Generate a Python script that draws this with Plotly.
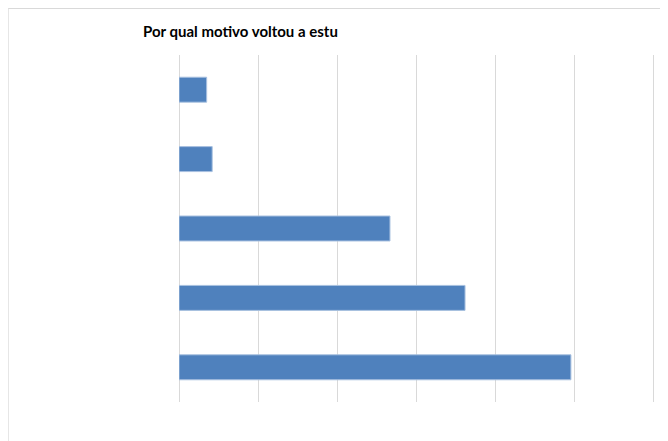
import plotly.graph_objects as go

title_text = "Por qual motivo voltou a estu"
categories = ["Motivo A", "Motivo B", "Motivo C", "Motivo D", "Motivo E"]
values = [49.6, 36.2, 26.7, 4.2, 3.5]  # bottom to top

fig = go.Figure()
fig.add_trace(go.Bar(
    y=categories,
    x=values,
    orientation="h",
    width=0.36,
    marker=dict(color="#4f81bd", line=dict(color="#a9c1e0", width=1)),
    hoverinfo="x",
))

# page body has an 8px margin, so figure coords = screen coords - 8
OFF = 8
W, H = 668, 441
XMAX = 61
unit_px = (653.3 - 179.3) / 60
plot_left = 179.3 - OFF
plot_right = plot_left + XMAX * unit_px
plot_top, plot_bottom = 55 - OFF, 402 - OFF
l, r, t, b = plot_left, W - plot_right, plot_top, H - plot_bottom

def px_to_paper_x(px):
    return (px - OFF - l) / (W - l - r)

def px_to_paper_y(py):
    return (H - b - (py - OFF)) / (H - t - b)

fig.update_layout(
    width=W, height=H,
    margin=dict(l=l, r=r, t=t, b=b, pad=0),
    paper_bgcolor="white",
    plot_bgcolor="white",
    showlegend=False,
    xaxis=dict(
        range=[0, XMAX], tickvals=[0, 10, 20, 30, 40, 50, 60],
        showgrid=True, gridcolor="#d9d9d9", gridwidth=1,
        zeroline=True, zerolinecolor="#d9d9d9", zerolinewidth=1,
        showticklabels=False, ticks="", showline=False, fixedrange=True,
    ),
    yaxis=dict(
        categoryorder="array", categoryarray=categories,
        showgrid=False, zeroline=False, showticklabels=False, ticks="",
        showline=False, fixedrange=True,
    ),
    shapes=[dict(
        type="rect", xref="paper", yref="paper",
        x0=px_to_paper_x(8.5), x1=px_to_paper_x(700),
        y0=px_to_paper_y(470), y1=px_to_paper_y(8.5),
        line=dict(color="#d9d9d9", width=1), fillcolor="rgba(0,0,0,0)",
        layer="below",
    )],
    annotations=[dict(
        text="<b>" + title_text + "</b>",
        xref="paper", yref="paper",
        x=px_to_paper_x(141), y=px_to_paper_y(31),
        xanchor="left", yanchor="middle", showarrow=False,
        font=dict(family="Lato", size=15, color="#000000"),
    )],
)

fig.write_html("out.html")
